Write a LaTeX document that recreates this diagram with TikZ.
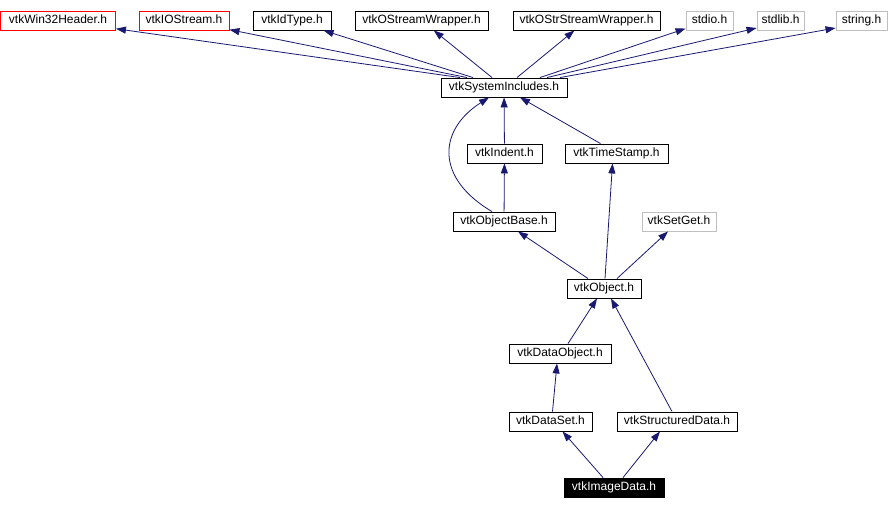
\documentclass[tikz,border=0pt]{standalone}
\usepackage{fontspec}
\setmainfont{Liberation Sans}
\usetikzlibrary{arrows.meta}
\definecolor{edgeblue}{RGB}{25,25,112}
\definecolor{boxgray}{RGB}{191,191,191}
\definecolor{boxred}{RGB}{255,0,0}
\begin{document}
\begin{tikzpicture}[x=1pt,y=-1pt,
  box/.style={draw=black,line width=0.9pt,rectangle,inner sep=0pt,minimum height=19pt,text height=8.6pt,text depth=3.4pt,font=\fontsize{12}{14}\selectfont,fill=white},
  redbox/.style={box,draw=boxred},
  graybox/.style={box,draw=boxgray},
  blackbox/.style={box,fill=black,text=white},
  edge/.style={draw=edgeblue,line width=0.8pt,-{Triangle[length=10pt,width=7pt,fill=edgeblue]}}]
\useasboundingbox (0,0) rectangle (890,509);
% nodes
\node[redbox,minimum width=115pt] (win32) at (58,20.5) {vtkWin32Header.h};
\node[redbox,minimum width=90pt] (iostream) at (184,20.5) {vtkIOStream.h};
\node[box,minimum width=78pt] (idtype) at (292,20.5) {vtkIdType.h};
\node[box,minimum width=133pt] (ostream) at (421.5,20.5) {vtkOStreamWrapper.h};
\node[box,minimum width=147pt] (ostrstream) at (586.5,20.5) {vtkOStrStreamWrapper.h};
\node[graybox,minimum width=47pt] (stdio) at (709.5,20.5) {stdio.h};
\node[graybox,minimum width=47pt] (stdlib) at (780.5,20.5) {stdlib.h};
\node[graybox,minimum width=51pt] (string) at (861.5,20.5) {string.h};
\node[box,minimum width=126pt] (sysinc) at (504,87.5) {vtkSystemIncludes.h};
\node[box,minimum width=75pt] (indent) at (504.5,153.5) {vtkIndent.h};
\node[box,minimum width=103pt] (timestamp) at (616.5,153.5) {vtkTimeStamp.h};
\node[box,minimum width=102pt] (objbase) at (504,221.5) {vtkObjectBase.h};
\node[graybox,minimum width=74pt] (setget) at (679,221.5) {vtkSetGet.h};
\node[box,minimum width=74pt] (object) at (604,288.5) {vtkObject.h};
\node[box,minimum width=102pt] (dataobj) at (560,353.5) {vtkDataObject.h};
\node[box,minimum width=83pt] (dataset) at (550.5,421.5) {vtkDataSet.h};
\node[box,minimum width=120pt] (structured) at (677,421.5) {vtkStructuredData.h};
\node[blackbox,minimum width=100pt] (imagedata) at (614,487.5) {vtkImageData.h};
% edges
\draw[edge] ([xshift=-44pt]sysinc.north) -- (win32);
\draw[edge] ([xshift=-37pt]sysinc.north) -- (iostream);
\draw[edge] ([xshift=-31pt]sysinc.north) -- (idtype);
\draw[edge] ([xshift=-12pt]sysinc.north) -- (ostream);
\draw[edge] ([xshift=13pt]sysinc.north) -- (ostrstream);
\draw[edge] ([xshift=36pt]sysinc.north) -- (stdio);
\draw[edge] ([xshift=43pt]sysinc.north) -- ([yshift=-7.5pt]stdlib.west);
\draw[edge] ([xshift=56pt]sysinc.north) -- ([yshift=-7.5pt]string.west);
\draw[edge] (indent) -- (sysinc);
\draw[edge] ([xshift=-16pt]timestamp.north) -- ([xshift=16pt]sysinc.south);
\draw[edge] ([xshift=-12pt]objbase.north) .. controls (435,178) and (438,130) .. ([xshift=-15pt]sysinc.south);
\draw[edge] (objbase) -- (indent);
\draw[edge] ([xshift=-16pt]object.north) -- ([xshift=14pt]objbase.south);
\draw[edge] ([xshift=1pt]object.north) -- ([xshift=-4pt]timestamp.south);
\draw[edge] ([xshift=13pt]object.north) -- ([xshift=-11pt]setget.south);
\draw[edge] ([xshift=8pt]dataobj.north) -- ([xshift=-7pt]object.south);
\draw[edge] ([xshift=-5pt]structured.north) -- ([xshift=7pt]object.south);
\draw[edge] ([xshift=2pt]dataset.north) -- ([xshift=-3pt]dataobj.south);
\draw[edge] ([xshift=-11pt]imagedata.north) -- ([xshift=12pt]dataset.south);
\draw[edge] ([xshift=9pt]imagedata.north) -- ([xshift=-17pt]structured.south);
\end{tikzpicture}
\end{document}
